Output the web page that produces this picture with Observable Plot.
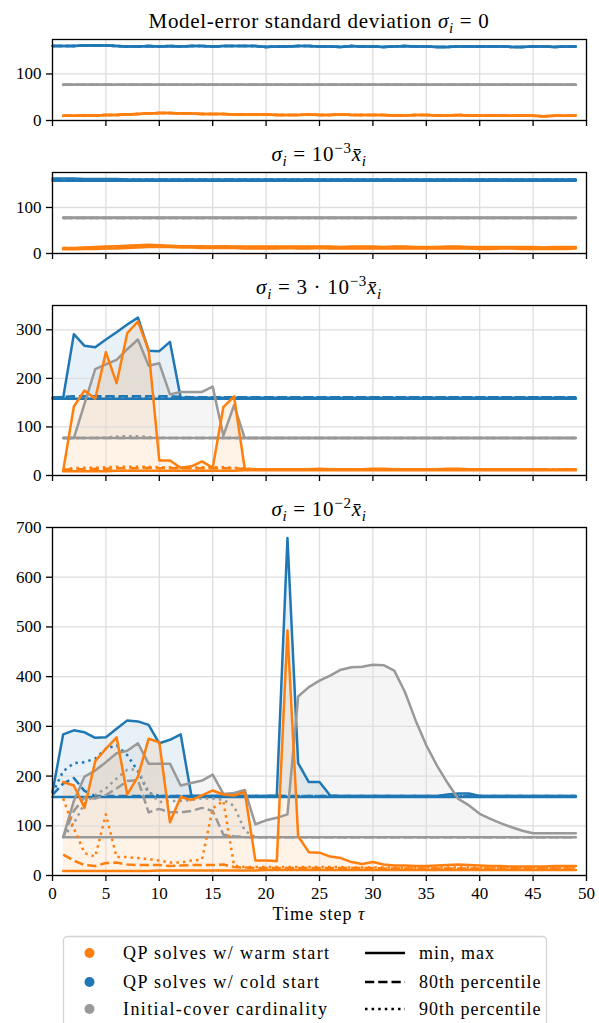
<!DOCTYPE html>
<html><head><meta charset="utf-8">
<script src="https://cdn.jsdelivr.net/npm/d3@7"></script>
<script src="https://cdn.jsdelivr.net/npm/@observablehq/plot@0.6"></script>
<style>
body{margin:0;background:#fff;}
#chart{width:599px;}
#chart svg{display:block;}
#chart svg text{font-family:'Liberation Serif','Times New Roman',serif;}
</style></head><body><div id="chart"></div>
<script>
// ---------- time steps and ticks ----------
const tauCold = [0,1,2,3,4,5,6,7,8,9,10,11,12,13,14,15,16,17,18,19,20,21,22,23,24,25,26,27,28,29,30,31,32,33,34,35,36,37,38,39,40,41,42,43,44,45,46,47,48,49];
const tauWarm = [1,2,3,4,5,6,7,8,9,10,11,12,13,14,15,16,17,18,19,20,21,22,23,24,25,26,27,28,29,30,31,32,33,34,35,36,37,38,39,40,41,42,43,44,45,46,47,48,49];
const xTicks = [0,5,10,15,20,25,30,35,40,45,50];

// ---------- constants ----------
const card77 = [77,77,77,77,77,77,77,77,77,77,77,77,77,77,77,77,77,77,77,77,77,77,77,77,77,77,77,77,77,77,77,77,77,77,77,77,77,77,77,77,77,77,77,77,77,77,77,77,77];
const card78 = [78,78,78,78,78,78,78,78,78,78,78,78,78,78,78,78,78,78,78,78,78,78,78,78,78,78,78,78,78,78,78,78,78,78,78,78,78,78,78,78,78,78,78,78,78,78,78,78,78];
const cold158 = [158,158,158,158,158,158,158,158,158,158,158,158,158,158,158,158,158,158,158,158,158,158,158,158,158,158,158,158,158,158,158,158,158,158,158,158,158,158,158,158,158,158,158,158,158,158,158,158,158,158];
const cold160 = [160,160,160,160,160,160,160,160,160,160,160,160,160,160,160,160,160,160,160,160,160,160,160,160,160,160,160,160,160,160,160,160,160,160,160,160,160,160,160,160,160,160,160,160,160,160,160,160,160,160];
const cold161 = [161,161,161,161,161,161,161,161,161,161,161,161,161,161,161,161,161,161,161,161,161,161,161,161,161,161,161,161,161,161,161,161,161,161,161,161,161,161,161,161,161,161,161,161,161,161,161,161,161,161];

// ---------- panel 1: sigma = 0 ----------
const s0Warm = [10,10,11,11,12,12,13,14,15,16,16,15,15,14,14,14,13,13,13,13,12,12,12,13,12,12,13,12,12,12,12,11,11,12,12,11,11,12,11,10,11,11,10,11,10,9,10,10,11];
const s0Cold = [160,160,160,161,161,161,160,159,159,160,159,160,159,160,160,159,160,160,160,160,158,159,159,160,160,159,159,158,160,159,159,158,159,160,159,159,158,158,159,159,159,159,159,158,158,159,159,158,159,159];

// ---------- panel 2: sigma = 1e-3 ----------
const s1WarmMin = [9,9,10,10,11,11,12,13,14,14,14,13,13,12,12,12,12,11,11,11,11,12,11,11,12,11,11,11,11,11,11,11,11,11,11,11,11,11,11,10,10,11,11,10,10,10,10,10,11];
const s1WarmMax = [12,12,13,14,15,16,17,18,19,18,17,16,16,16,15,16,15,15,15,15,15,15,15,15,15,15,14,15,15,15,14,15,15,14,14,14,15,15,14,14,14,14,14,14,14,13,14,14,14];
const s1WarmP80 = [11,11,12,12,13,14,15,16,17,16,16,15,15,14,14,14,14,13,13,13,13,14,13,13,14,13,13,13,13,13,13,13,13,13,13,13,13,13,13,12,12,13,13,12,12,12,12,12,13];
const s1WarmP90 = [12,11,12,13,14,15,16,17,18,17,16,16,15,15,15,15,14,14,14,14,14,14,14,14,14,14,13,14,14,14,13,14,14,13,13,13,14,14,13,13,13,13,13,13,13,12,13,13,13];
const s1ColdMax = [163,163,163,162,162,162,162,161,161,161,161,161,161,161,161,161,161,161,161,161,161,161,161,161,161,161,161,161,161,161,161,161,161,161,161,161,161,161,161,161,161,161,161,161,161,161,161,161,161,161];

// ---------- panel 3: sigma = 3e-3 ----------
const s3WarmMin = [9,9,9,9,9,10,10,10,10,10,10,10,10,10,10,10,10,11,11,11,11,11,11,11,11,11,11,11,11,11,11,11,11,11,11,11,11,11,11,11,11,11,11,11,11,11,11,11,11];
const s3WarmMax = [10,142,175,158,254,190,293,317,259,31,31,16,19,29,16,141,163,14,13,13,13,13,13,13,14,13,13,13,13,14,14,13,13,13,13,13,14,14,13,13,13,13,13,13,13,13,12,13,13];
const s3WarmP80 = [12,13,13,14,14,15,15,15,16,15,15,15,15,15,15,15,15,13,12,12,12,12,12,12,12,12,12,12,12,12,12,12,12,12,12,12,12,12,12,12,12,12,12,12,12,12,12,12,12];
const s3WarmP90 = [13,15,16,16,17,18,18,18,18,17,17,16,16,17,17,17,16,14,13,13,13,13,13,13,13,13,13,13,13,13,13,13,13,13,13,13,13,13,13,13,13,13,13,13,13,13,13,13,13];
const s3ColdMax = [160,160,291,267,264,280,295,311,325,257,256,275,160,160,160,160,160,160,160,160,160,160,160,160,160,160,160,160,160,160,160,160,160,160,160,160,160,160,160,160,160,160,160,160,160,160,160,160,160,160];
const s3ColdP80 = [160,162,163,163,163,163,163,163,163,163,163,163,162,161,161,161,161,161,161,161,161,161,161,161,161,161,161,161,161,161,161,161,161,161,161,161,161,161,161,161,161,161,161,161,161,161,161,161,161,161];
const s3CardMax = [77,77,148,219,229,238,260,280,226,231,167,172,172,172,183,82,145,77,77,77,77,77,77,77,77,77,77,77,77,77,77,77,77,77,77,77,77,77,77,77,77,77,77,77,77,77,77,77,77];
const s3CardP90 = [77,77,77,77,78,80,81,81,79,78,77,77,77,77,77,77,77,77,77,77,77,77,77,77,77,77,77,77,77,77,77,77,77,77,77,77,77,77,77,77,77,77,77,77,77,77,77,77,77];

// ---------- panel 4: sigma = 1e-2 ----------
const s2WarmMin = [9,9,9,9,9,9,9,9,9,10,10,10,10,10,10,10,10,10,10,11,11,11,11,11,11,11,11,11,11,11,11,11,11,11,11,11,11,11,11,11,11,11,11,11,11,11,11,11,11];
const s2WarmMax = [188,181,136,230,255,278,163,199,275,268,107,158,152,161,171,163,161,168,30,30,29,493,79,47,46,38,35,27,23,27,22,20,20,19,19,20,21,22,21,20,19,19,18,18,18,18,19,19,19];
const s2WarmP80 = [42,30,21,19,25,26,22,21,21,21,19,20,21,21,21,22,17,16,15,15,15,15,15,15,15,15,15,15,15,15,14,14,14,14,14,14,14,14,14,14,14,14,14,14,14,14,14,14,14];
const s2WarmP90 = [155,95,45,38,123,37,37,35,33,30,26,26,30,32,135,150,20,17,17,17,17,17,17,17,17,17,17,16,16,16,16,16,16,16,16,16,16,16,16,16,16,16,16,16,16,16,16,16,16];
const s2ColdMax = [168,284,292,288,277,278,295,312,310,303,266,273,284,161,160,160,160,160,160,160,160,161,679,226,188,188,161,160,160,160,160,160,160,160,160,160,160,163,165,165,160,160,160,160,160,160,160,160,160,160];
const s2ColdP80 = [162,185,196,170,160,160,160,160,160,160,160,160,160,160,160,160,160,160,160,160,160,160,160,160,160,160,160,160,160,160,160,160,160,160,160,160,160,160,160,160,160,160,160,160,160,160,160,160,160,160];
const s2ColdP90 = [165,210,226,228,235,255,262,242,210,166,160,160,160,160,160,160,160,160,160,160,160,160,160,160,160,160,160,160,160,160,160,160,160,160,160,160,160,160,160,160,160,160,160,160,160,160,160,160,160,160];
const s2CardMax = [77,150,199,211,228,246,251,266,225,225,225,181,186,191,203,164,166,172,103,111,116,123,360,379,392,402,414,419,420,424,423,412,369,312,262,221,186,154,141,124,114,105,97,90,85,85,85,85,85];
const s2CardP80 = [77,130,157,155,162,175,190,192,127,134,127,127,130,136,130,82,79,77,77,77,77,77,77,77,77,77,77,77,77,77,77,77,77,77,77,77,77,77,77,77,77,77,77,77,77,77,77,77,77];
const s2CardP90 = [77,105,145,162,175,195,213,213,168,148,150,150,152,155,155,152,140,90,77,77,77,77,77,77,77,77,77,77,77,77,77,77,77,77,77,77,77,77,77,77,77,77,77,77,77,77,77,77,77];

// ---------- legend ----------
const groupNames = ["QP solves w/ warm start", "QP solves w/ cold start", "Initial-cover cardinality"];
const statNames = ["min, max", "80th percentile", "90th percentile"];

const COLORS = {warm: "#ff7f0e", cold: "#1f77b4", card: "#999999"};
const FONT = "'Liberation Serif', 'Times New Roman', serif";

function rows(t, s) {
  return t.map((x, i) => ({t: x, min: s.min[i], max: s.max[i], p80: s.p80[i], p90: s.p90[i]}));
}

const panels = [
  {
    title: [{t: "Model-error standard deviation "}, {t: "σ", it: 1}, {t: "i", it: 1, sub: 1}, {t: " = 0"}],
    yMax: 174, yTicks: [0, 100], height: 133, mb: 13,
    warm: {min: s0Warm, max: s0Warm, p80: s0Warm, p90: s0Warm},
    cold: {min: s0Cold, max: s0Cold, p80: s0Cold, p90: s0Cold},
    card: {min: card77, max: card77, p80: card77, p90: card77}
  },
  {
    title: [{t: "σ", it: 1}, {t: "i", it: 1, sub: 1}, {t: " = 10"}, {t: "−3", sup: 1}, {t: "x̄", it: 1}, {t: "i", it: 1, sub: 1}],
    yMax: 176, yTicks: [0, 100], height: 133, mb: 13,
    warm: {min: s1WarmMin, max: s1WarmMax, p80: s1WarmP80, p90: s1WarmP90},
    cold: {min: cold158, max: s1ColdMax, p80: cold160, p90: cold161},
    card: {min: card77, max: card78, p80: card77, p90: card77}
  },
  {
    title: [{t: "σ", it: 1}, {t: "i", it: 1, sub: 1}, {t: " = 3 · 10"}, {t: "−3", sup: 1}, {t: "x̄", it: 1}, {t: "i", it: 1, sub: 1}],
    yMax: 350, yTicks: [0, 100, 200, 300], height: 222, mb: 13,
    warm: {min: s3WarmMin, max: s3WarmMax, p80: s3WarmP80, p90: s3WarmP90},
    cold: {min: cold158, max: s3ColdMax, p80: s3ColdP80, p90: cold161},
    card: {min: card77, max: s3CardMax, p80: card77, p90: s3CardP90}
  },
  {
    title: [{t: "σ", it: 1}, {t: "i", it: 1, sub: 1}, {t: " = 10"}, {t: "−2", sup: 1}, {t: "x̄", it: 1}, {t: "i", it: 1, sub: 1}],
    yMax: 700, yTicks: [0, 100, 200, 300, 400, 500, 600, 700], height: 442, mb: 55, showX: true,
    warm: {min: s2WarmMin, max: s2WarmMax, p80: s2WarmP80, p90: s2WarmP90},
    cold: {min: cold158, max: s2ColdMax, p80: s2ColdP80, p90: s2ColdP90},
    card: {min: card77, max: s2CardMax, p80: s2CardP80, p90: s2CardP90}
  }
];

function addMath(sel, segs, size, subSize) {
  let shift = 0;
  segs.forEach(s => {
    const target = s.sub ? size * 0.25 : s.sup ? -size * 0.4 : 0;
    const ts = sel.append("tspan").text(s.t).attr("dy", target - shift);
    shift = target;
    if (s.it) ts.style("font-style", "italic");
    if (s.sub || s.sup) ts.style("font-size", subSize + "px");
  });
}

const chart = document.getElementById("chart");
panels.forEach(p => {
  const groups = [
    {key: "cold", t: tauCold, s: p.cold},
    {key: "card", t: tauWarm, s: p.card},
    {key: "warm", t: tauWarm, s: p.warm}
  ].map(g => ({...g, rows: rows(g.t, g.s), color: COLORS[g.key]}));

  const marks = [];
  groups.forEach(g => marks.push(Plot.areaY(g.rows, {x: "t", y1: "min", y2: "max", fill: g.color, fillOpacity: 0.1, curve: "linear"})));
  marks.push(Plot.gridX(xTicks, {stroke: "#dedede", strokeOpacity: 1, strokeWidth: 1.3}));
  marks.push(Plot.gridY(p.yTicks, {stroke: "#dedede", strokeOpacity: 1, strokeWidth: 1.3}));
  groups.forEach(g => {
    const base = {x: "t", stroke: g.color, strokeWidth: 2.5, curve: "linear"};
    marks.push(Plot.lineY(g.rows, {...base, y: "min"}));
    marks.push(Plot.lineY(g.rows, {...base, y: "max"}));
    marks.push(Plot.lineY(g.rows, {...base, y: "p80", strokeDasharray: "9.25,4", strokeLinecap: "butt"}));
    marks.push(Plot.lineY(g.rows, {...base, y: "p90", strokeDasharray: "2.5,4.1", strokeLinecap: "butt"}));
  });
  marks.push(Plot.frame({stroke: "black", strokeWidth: 1.3}));
  marks.push(Plot.axisY(p.yTicks, {tickSize: 6, tickPadding: 5, fontSize: 17, fontFamily: FONT, label: null, strokeWidth: 1.3}));
  marks.push(Plot.axisX(xTicks, {tickSize: 6, tickPadding: 5, fontSize: 17, fontFamily: FONT, label: null, strokeWidth: 1.3,
    tickFormat: p.showX ? (d => String(d)) : (() => "")}));

  const svg = Plot.plot({
    width: 599, height: p.height,
    marginLeft: 52, marginRight: 13, marginTop: 39, marginBottom: p.mb,
    x: {domain: [0, 50]},
    y: {domain: [0, p.yMax]},
    style: {fontFamily: FONT, fontSize: "17px", background: "white", color: "black", overflow: "visible"},
    marks
  });
  const t = d3.select(svg).append("text")
    .attr("x", 319).attr("y", 28).attr("text-anchor", "middle")
    .attr("fill", "black")
    .style("font-family", FONT).style("font-size", "21px").style("letter-spacing", "0.7px");
  addMath(t, p.title, 21, 15);
  if (p.showX) {
    const xl = d3.select(svg).append("text")
      .attr("x", 319).attr("y", 432).attr("text-anchor", "middle").attr("fill", "black")
      .style("font-family", FONT).style("font-size", "18px").style("letter-spacing", "1px");
    addMath(xl, [{t: "Time step "}, {t: "τ", it: 1}], 18, 13);
  }
  chart.appendChild(svg);
});

// legend
const lg = d3.select(chart).append("svg").attr("width", 599).attr("height", 93)
  .style("font-family", FONT).style("font-size", "18px");
lg.append("rect").attr("x", 63.5).attr("y", 6.5).attr("width", 483).attr("height", 110).attr("rx", 4)
  .attr("fill", "white").attr("stroke", "#d4d4d4").attr("stroke-width", 1.3);
const rowY = [23, 52, 79];
const gcol = [COLORS.warm, COLORS.cold, COLORS.card];
const dashes = [null, "9.25,4", "2.5,4.1"];
groupNames.forEach((n, i) => {
  lg.append("circle").attr("cx", 89.5).attr("cy", rowY[i]).attr("r", 5).attr("fill", gcol[i]);
  lg.append("text").attr("x", 123).attr("y", rowY[i] + 5.5).attr("fill", "black").style("letter-spacing", "1.4px").text(n);
});
statNames.forEach((n, i) => {
  const l = lg.append("line").attr("x1", 365).attr("x2", 405).attr("y1", rowY[i]).attr("y2", rowY[i])
    .attr("stroke", "black").attr("stroke-width", 2.5);
  if (dashes[i]) l.attr("stroke-dasharray", dashes[i]);
  lg.append("text").attr("x", 419).attr("y", rowY[i] + 5.5).attr("fill", "black").style("letter-spacing", "1px").text(n);
});
</script></body></html>
